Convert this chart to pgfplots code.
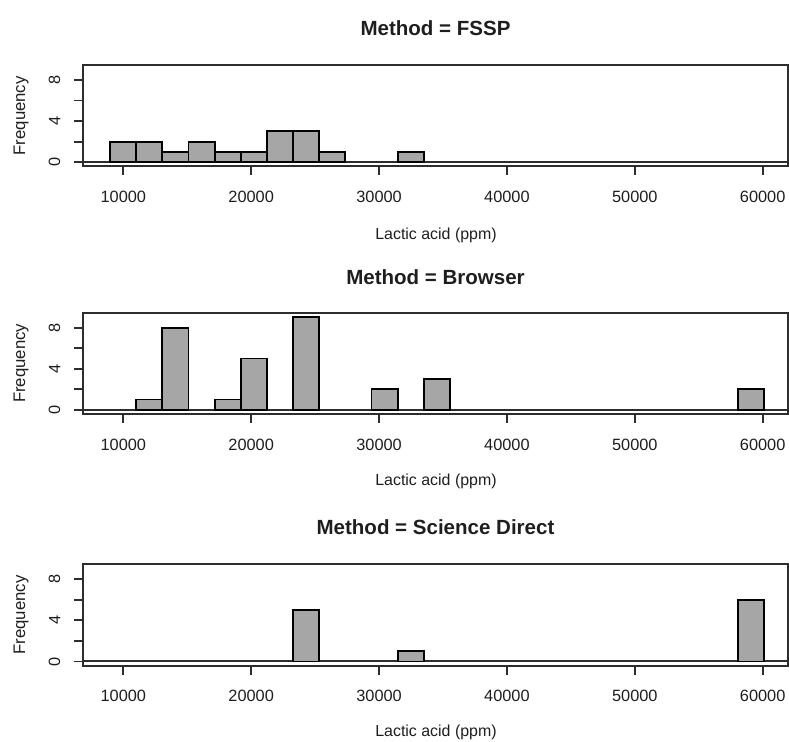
\documentclass[border=0pt]{standalone}
\usepackage{fontspec}
\setmainfont{Liberation Sans}
\usepackage{pgfplots}
\pgfplotsset{compat=1.18}

\definecolor{barfill}{RGB}{166,166,166}
\definecolor{framec}{RGB}{45,45,45}
\definecolor{textc}{RGB}{30,30,30}

% Common look of the three histogram panels (1 unit = 0.5bp)
\pgfplotsset{
  histpanel/.style={
    scale only axis,
    anchor=north west,
    width=352.5bp, height=50.75bp,
    xmin=6872, xmax=62002,
    ymin=-0.42, ymax=9.45,
    axis line style={framec, line width=1bp},
    xtick={10000,20000,30000,40000,50000,60000},
    xticklabels={10000,20000,30000,40000,50000,60000},
    scaled x ticks=false,
    ytick={0,2,4,6,8}, yticklabels={0,,4,,8},
    xtick pos=left, ytick pos=left,
    tick align=outside, major tick length=4.5bp,
    tick style={framec, line width=0.9bp},
    tick label style={font=\fontsize{8.2}{9}\selectfont, text=textc},
    xticklabel shift=4.3bp,
    yticklabel shift=3.5bp,
    yticklabel style={rotate=90, anchor=south},
  },
  histbar/.style={ybar, bar width=2045, bar shift=0pt,
    fill=barfill, draw=black, line width=0.9bp},
  baseline/.style={sharp plot, no marks, draw=framec, line width=1bp},
}

\newcommand{\paneltitle}[2]{\node[font=\bfseries\fontsize{10.3}{12}\selectfont, text=textc] at (#1) {#2};}
\newcommand{\xlab}[1]{\node[font=\fontsize{8}{9}\selectfont, text=textc] at (#1) {Lactic acid (ppm)};}
\newcommand{\ylab}[1]{\node[font=\fontsize{8.4}{9}\selectfont, text=textc, rotate=90] at (#1) {Frequency};}

\begin{document}
\begin{tikzpicture}
\useasboundingbox (0,0) rectangle (394.5bp,-371bp);
\clip (0,0) rectangle (394.5bp,-371bp);

% ---- FSSP ----
\paneltitle{217.75bp,-14bp}{Method = FSSP}
\begin{axis}[histpanel, at={(41.65bp,-32.5bp)}]
  \addplot[baseline] coordinates {(6872,0) (62002,0)};
  \addplot[histbar] coordinates {
    (9982.5,2) (12027.5,2) (14072.5,1) (16117.5,2) (18162.5,1)
    (20207.5,1) (22252.5,3) (24297.5,3) (26342.5,1) (32477.5,1)};
\end{axis}
\xlab{218bp,-117.5bp}
\ylab{10.5bp,-57.9bp}

% ---- Browser ----
\paneltitle{217.75bp,-138.5bp}{Method = Browser}
\begin{axis}[histpanel, at={(41.65bp,-156.35bp)}]
  \addplot[baseline] coordinates {(6872,0) (62002,0)};
  \addplot[histbar] coordinates {
    (12027.5,1) (14072.5,8) (18162.5,1) (20207.5,5) (24297.5,9)
    (30432.5,2) (34522.5,3) (59062.5,2)};
\end{axis}
\xlab{218bp,-240.5bp}
\ylab{10.5bp,-181.7bp}

% ---- Science Direct ----
\paneltitle{217.75bp,-263.75bp}{Method = Science Direct}
\begin{axis}[histpanel, at={(41.65bp,-282.15bp)}]
  \addplot[baseline] coordinates {(6872,0) (62002,0)};
  \addplot[histbar] coordinates {
    (24297.5,5) (32477.5,1) (59062.5,6)};
\end{axis}
\xlab{218bp,-366.25bp}
\ylab{10.5bp,-307.5bp}
\end{tikzpicture}
\end{document}
